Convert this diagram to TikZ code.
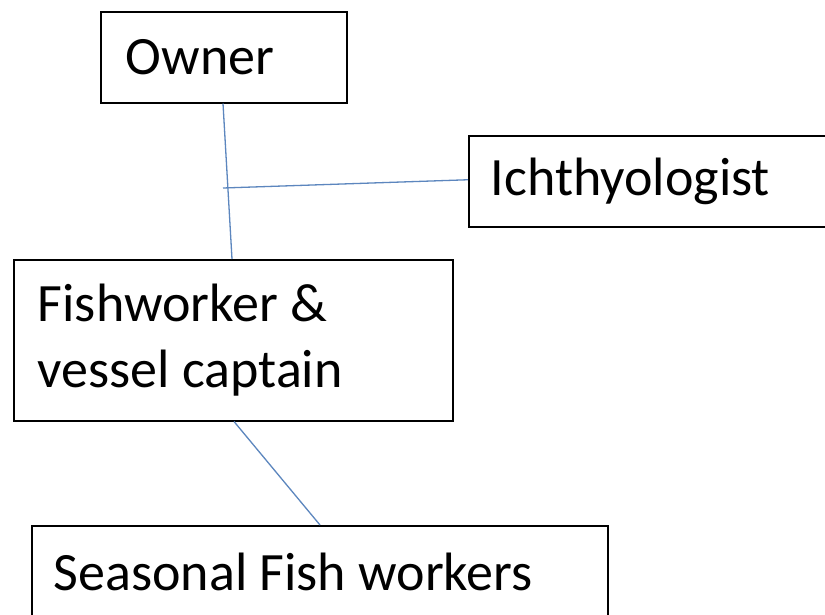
\documentclass[tikz,border=0pt]{standalone}
\usepackage{fontspec}
\setmainfont{Carlito}
\definecolor{linkblue}{RGB}{92,134,190}
\begin{document}
\begin{tikzpicture}[x=1pt,y=-1pt,
  box/.style={draw=black, line width=1.5pt, rectangle, anchor=north west,
    align=flush left, inner ysep=0pt, font=\fontsize{54}{66}\selectfont},
  link/.style={draw=linkblue, line width=1.3pt}]
  \clip (0,0) rectangle (825,614);
  \fill[white] (0,0) rectangle (825,614);

  % boxes
  \node[box, minimum width=246pt, minimum height=91pt, inner xsep=25pt, text width=196pt]
    (owner) at (100,11) {Owner};
  \node[box, minimum width=372pt, minimum height=91pt, inner xsep=22pt, text width=328pt]
    (ichth) at (468,135) {Ichthyologist};
  \node[box, minimum width=439pt, minimum height=161pt, inner xsep=24pt, text width=391pt]
    (fish) at (13,259) {Fishworker \&\\vessel captain};
  \node[box, minimum width=576pt, minimum height=93pt, inner xsep=22pt, text width=532pt]
    (seas) at (31,525) {Seasonal Fish workers};

  % connectors
  \coordinate (j) at (223,188);
  \draw[link] ([xshift=123pt]owner.south west) -- ([xshift=219pt]fish.north west);
  \draw[link] (j) -- ([yshift=1.5pt]ichth.west);
  \draw[link] ([xshift=221pt]fish.south west) -- ([xshift=289pt]seas.north west);
\end{tikzpicture}
\end{document}
